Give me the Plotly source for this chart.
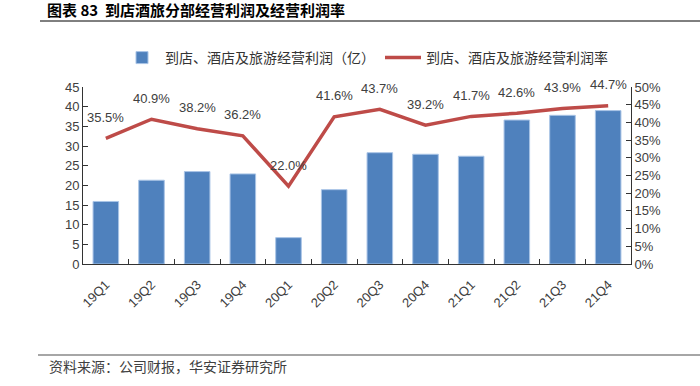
import plotly.graph_objects as go

categories = ["19Q1", "19Q2", "19Q3", "19Q4", "20Q1", "20Q2", "20Q3", "20Q4",
              "21Q1", "21Q2", "21Q3", "21Q4"]
profit = [15.9, 21.3, 23.5, 22.9, 6.7, 18.9, 28.3, 27.9, 27.4, 36.6, 37.8, 39.0]
margin = [35.5, 40.9, 38.2, 36.2, 22.0, 41.6, 43.7, 39.2, 41.7, 42.6, 43.9, 44.7]

name_bar = "到店、酒店及旅游经营利润（亿）"
name_line = "到店、酒店及旅游经营利润率"
title_text = "图表 83  到店酒旅分部经营利润及经营利润率"
source_text = "资料来源：公司财报，华安证券研究所"

L, R, T, B = 83, 69, 87, 122
W, H = 700, 386
pw, ph = W - L - R, H - T - B

def px_x(x):
    return (x - L) / pw

def px_y(y):
    return (H - B - y) / ph

cjk = "Noto Sans CJK SC"
latin = "Liberation Sans, Noto Sans CJK SC"

fig = go.Figure()
fig.add_trace(go.Bar(
    x=categories, y=profit, name=name_bar,
    marker=dict(color="#4F81BD", line=dict(color="#A9C4E6", width=1)),
    width=0.56, yaxis="y",
))
fig.add_trace(go.Scatter(
    x=categories, y=margin, name=name_line, mode="lines",
    line=dict(color="#BE4B48", width=3.5), yaxis="y2",
))

for c, m in zip(categories, margin):
    fig.add_annotation(x=c, y=m, yref="y2", text=f"{m:.1f}%", showarrow=False,
                       yshift=21, font=dict(family=latin, size=13, color="#404040"))

fig.update_layout(
    width=W, height=H,
    margin=dict(l=L, r=R, t=T, b=B, autoexpand=False),
    plot_bgcolor="white", paper_bgcolor="white",
    bargap=0.44,
    showlegend=True,
    legend=dict(orientation="h", x=px_x(366), xanchor="center", y=px_y(58), yanchor="middle",
                font=dict(family=cjk, size=14, color="#333333"),
                itemwidth=36, traceorder="normal"),
    title=dict(text=title_text, x=47 / W, xanchor="left", y=1 - 11 / H, yanchor="middle",
               font=dict(family=cjk, size=15, color="#000000", weight="bold")),
    xaxis=dict(type="category", showline=True, linecolor="#333333", linewidth=1,
               ticks="inside", tickson="boundaries", ticklen=5, tickcolor="#333333",
               tickangle=-45, ticklabelstandoff=7,
               tickfont=dict(family=latin, size=13, color="#404040"),
               showgrid=False, mirror=False, automargin=False),
    yaxis=dict(range=[0, 45], dtick=5, showline=True, linecolor="#333333", linewidth=1,
               ticks="inside", ticklen=5, tickcolor="#333333", showgrid=False,
               zeroline=False, automargin=False,
               tickfont=dict(family=latin, size=13, color="#404040")),
    yaxis2=dict(range=[0, 50], dtick=5, overlaying="y", side="right", showline=True,
                linecolor="#333333", linewidth=1, ticks="inside", ticklen=5,
                tickcolor="#333333", showgrid=False, zeroline=False, ticksuffix="%",
                automargin=False,
                tickfont=dict(family=latin, size=13, color="#404040")),
)

fig.add_shape(type="line", xref="paper", yref="paper", x0=px_x(40), x1=px_x(700),
              y0=px_y(21), y1=px_y(21), line=dict(color="#000000", width=1))
fig.add_shape(type="line", xref="paper", yref="paper", x0=px_x(38), x1=px_x(700),
              y0=px_y(355), y1=px_y(355), line=dict(color="#888888", width=1.5))
fig.add_annotation(xref="paper", yref="paper", x=px_x(47), y=px_y(366), xanchor="left",
                   yanchor="middle", showarrow=False, text=source_text,
                   font=dict(family=cjk, size=14, color="#404040"))

fig.write_html("out.html", config={"displayModeBar": False},
               post_script="document.body.style.margin='0px';")
